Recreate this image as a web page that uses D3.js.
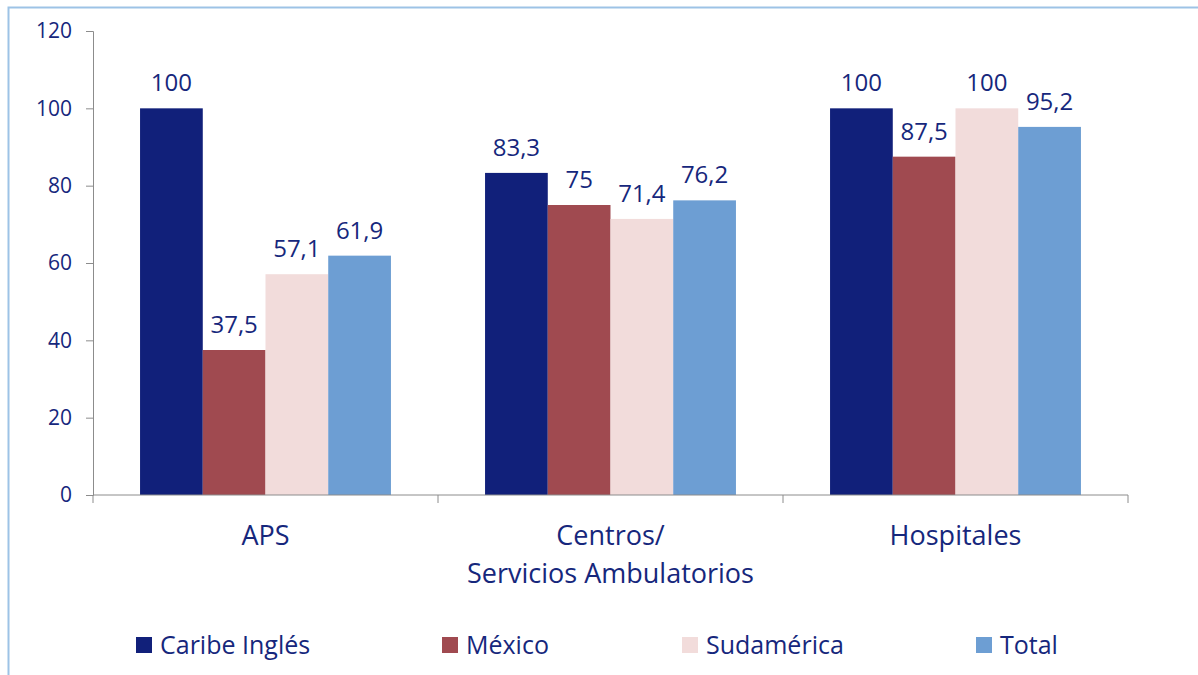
<!DOCTYPE html>
<html>
<head>
<meta charset="utf-8">
<script src="https://cdn.jsdelivr.net/npm/d3@7"></script>
<style>
  body { margin: 0; background: #fff; }
  svg text { font-family: "Open Sans", "Noto Sans", sans-serif; fill: #16277c; }
</style>
</head>
<body>
<div id="chart"></div>
<script>
// data
var categories = ["APS", "Centros/\nServicios Ambulatorios", "Hospitales"];
var seriesNames = ["Caribe Inglés", "México", "Sudamérica", "Total"];
var seriesColors = ["#11207a", "#a04a50", "#f2dcdb", "#6d9ed3"];
var caribeIngles = [100, 83.3, 100];
var mexico = [37.5, 75, 87.5];
var sudamerica = [57.1, 71.4, 100];
var total = [61.9, 76.2, 95.2];
var yTicks = [0, 20, 40, 60, 80, 100, 120];
var allSeries = [caribeIngles, mexico, sudamerica, total];

var width = 1198, height = 675;
var svg = d3.select("#chart").append("svg")
    .attr("width", width)
    .attr("height", height);

// outer frame (runs off the right/bottom edge like the original)
svg.append("rect")
    .attr("x", 8.5).attr("y", 7.5)
    .attr("width", 1300).attr("height", 800)
    .attr("fill", "none")
    .attr("stroke", "#9dc3e6")
    .attr("stroke-width", 2);

var plot = { left: 93, right: 1128, top: 31, bottom: 495 };

var x0 = d3.scaleBand()
    .domain(d3.range(categories.length))
    .range([plot.left, plot.right])
    .paddingInner(0)
    .paddingOuter(0);

var x1 = d3.scaleBand()
    .domain(d3.range(seriesNames.length))
    .range([0, x0.bandwidth()])
    .paddingInner(0)
    .paddingOuter(0.75);

var y = d3.scaleLinear()
    .domain([0, 120])
    .range([plot.bottom, plot.top]);

// y axis
var yAxis = svg.append("g")
    .attr("transform", "translate(" + plot.left + ",0)")
    .call(d3.axisLeft(y).tickValues(yTicks).tickSize(7).tickPadding(14));
yAxis.select(".domain").attr("stroke", "#8c8c8c");
yAxis.selectAll(".tick line").attr("stroke", "#8c8c8c");
yAxis.selectAll(".tick text")
    .style("font-size", "21px")
    .attr("fill", "#16277c");

// bars
var groups = svg.append("g").selectAll("g")
    .data(categories)
    .join("g")
    .attr("transform", function (d, i) { return "translate(" + x0(i) + ",0)"; });

groups.selectAll("rect")
    .data(function (d, i) {
        return allSeries.map(function (s, j) { return { s: j, v: s[i] }; });
    })
    .join("rect")
    .attr("x", function (d) { return x1(d.s); })
    .attr("y", function (d) { return y(d.v); })
    .attr("width", x1.bandwidth())
    .attr("height", function (d) { return y(0) - y(d.v); })
    .attr("fill", function (d) { return seriesColors[d.s]; });

groups.selectAll("text.val")
    .data(function (d, i) {
        return allSeries.map(function (s, j) { return { s: j, v: s[i] }; });
    })
    .join("text")
    .attr("class", "val")
    .attr("x", function (d) { return x1(d.s) + x1.bandwidth() / 2; })
    .attr("y", function (d) { return y(d.v) - 17; })
    .attr("text-anchor", "middle")
    .style("font-size", "24px")
    .text(function (d) { return String(d.v).replace(".", ","); });

// x axis (drawn over bar bottoms)
var xAxis = svg.append("g")
    .attr("transform", "translate(0," + plot.bottom + ")");
xAxis.append("line")
    .attr("x1", plot.left).attr("x2", plot.right)
    .attr("stroke", "#8c8c8c");
xAxis.selectAll("line.tk")
    .data(d3.range(categories.length + 1))
    .join("line")
    .attr("class", "tk")
    .attr("x1", function (i) { return plot.left + i * x0.bandwidth(); })
    .attr("x2", function (i) { return plot.left + i * x0.bandwidth(); })
    .attr("y1", 0).attr("y2", 8)
    .attr("stroke", "#8c8c8c");

xAxis.selectAll("text.cat")
    .data(categories)
    .join("text")
    .attr("class", "cat")
    .attr("text-anchor", "middle")
    .attr("transform", function (d, i) {
        return "translate(" + (x0(i) + x0.bandwidth() / 2) + ",50)";
    })
    .style("font-size", "27px")
    .each(function (d) {
        var t = d3.select(this);
        d.split("\n").forEach(function (line, k) {
            t.append("tspan").attr("x", 0).attr("y", k * 38).text(line);
        });
    });

// legend
var legendX = [136, 442, 682, 976];
var legend = svg.append("g").selectAll("g")
    .data(seriesNames)
    .join("g")
    .attr("transform", function (d, i) { return "translate(" + legendX[i] + ",637)"; });
legend.append("rect")
    .attr("width", 16).attr("height", 16)
    .attr("fill", function (d, i) { return seriesColors[i]; });
legend.append("text")
    .attr("x", 24).attr("y", 17)
    .style("font-size", "25px")
    .text(function (d) { return d; });
</script>
</body>
</html>
